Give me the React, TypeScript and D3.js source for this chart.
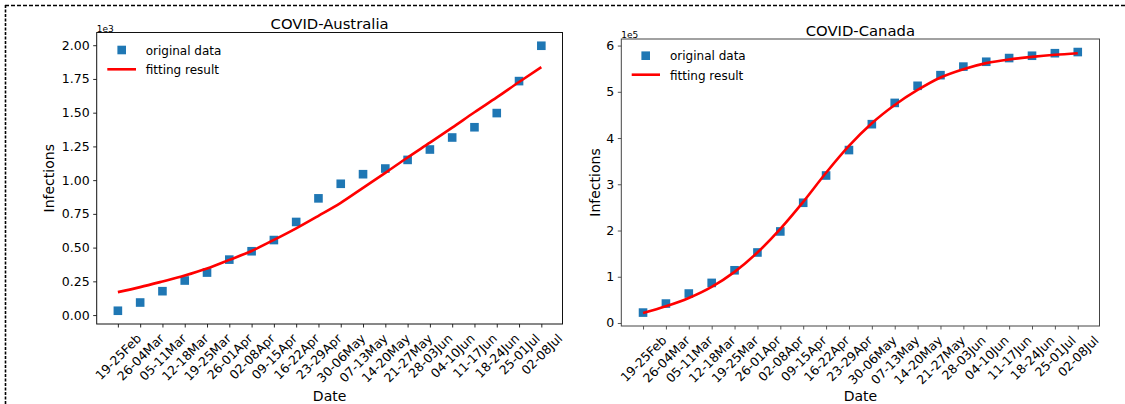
import React, { useEffect, useRef } from "react";
import * as d3 from "d3";

const dates = [
  "19-25Feb", "26-04Mar", "05-11Mar", "12-18Mar", "19-25Mar", "26-01Apr", "02-08Apr",
  "09-15Apr", "16-22Apr", "23-29Apr", "30-06May", "07-13May", "14-20May", "21-27May",
  "28-03Jun", "04-10Jun", "11-17Jun", "18-24Jun", "25-01Jul", "02-08Jul",
];

// Australia, units of 1e3
const ausOriginal = [0.032, 0.093, 0.177, 0.256, 0.315, 0.411, 0.473, 0.556, 0.690, 0.865,
  0.973, 1.044, 1.086, 1.150, 1.227, 1.316, 1.392, 1.497, 1.734, 1.996];
const ausFitting = [0.170, 0.207, 0.249, 0.293, 0.345, 0.409, 0.475, 0.557, 0.643, 0.736,
  0.832, 0.943, 1.054, 1.168, 1.278, 1.389, 1.503, 1.613, 1.727, 1.838];
const ausYTicks = [0, 0.25, 0.5, 0.75, 1.0, 1.25, 1.5, 1.75, 2.0];

// Canada, units of 1e5
const canOriginal = [0.225, 0.42, 0.637, 0.867, 1.14, 1.525, 1.98, 2.6, 3.19, 3.74,
  4.30, 4.76, 5.13, 5.36, 5.545, 5.65, 5.73, 5.78, 5.835, 5.86];
const canFitting = [0.217, 0.36, 0.54, 0.78, 1.105, 1.525, 2.036, 2.62, 3.25, 3.83,
  4.32, 4.715, 5.04, 5.31, 5.49, 5.62, 5.70, 5.755, 5.80, 5.835];
const canYTicks = [0, 1, 2, 3, 4, 5, 6];

const FONT = "DejaVu Sans, sans-serif";
const BLUE = "#1f77b4";
const RED = "#ff0000";

type Panel = {
  title: string;
  original: number[];
  fitting: number[];
  yTicks: number[];
  yFormat: (v: number) => string;
  offset: string;
  left: number;
  right: number;
  top: number;
  bottom: number;
  ylabelX: number;
  spine: string;
  legMarker: [number, number];
  legText1: [number, number];
  legLine: [number, number, number];
  legText2: [number, number];
};

const panels: Panel[] = [
  {
    title: "COVID-Australia",
    original: ausOriginal,
    fitting: ausFitting,
    yTicks: ausYTicks,
    yFormat: d3.format(".2f"),
    offset: "1e3",
    left: 96.7,
    right: 562.5,
    top: 32.5,
    bottom: 324,
    ylabelX: 54,
    spine: "#111",
    legMarker: [121.7, 50],
    legText1: [145.7, 54.5],
    legLine: [107.3, 136, 69.3],
    legText2: [145.7, 74],
  },
  {
    title: "COVID-Canada",
    original: canOriginal,
    fitting: canFitting,
    yTicks: canYTicks,
    yFormat: d3.format("d"),
    offset: "1e5",
    left: 621.3,
    right: 1099.5,
    top: 39,
    bottom: 326,
    ylabelX: 600,
    spine: "#444",
    legMarker: [645.7, 55.7],
    legText1: [670, 60],
    legLine: [631.7, 660, 74.7],
    legText2: [670, 79.7],
  },
];

function drawPanel(svg: d3.Selection<SVGSVGElement, unknown, null, undefined>, p: Panel) {
  const g = svg.append("g");
  const n = dates.length;
  const x = d3.scaleLinear().domain([-0.95, n - 1 + 0.95]).range([p.left, p.right]);
  const ext = d3.extent(p.original.concat(p.fitting)) as [number, number];
  const pad = (ext[1] - ext[0]) * 0.05;
  const y = d3.scaleLinear().domain([ext[0] - pad, ext[1] + pad]).range([p.bottom, p.top]);

  // x axis
  const xAxis = d3
    .axisBottom(x)
    .tickValues(d3.range(n))
    .tickFormat((i) => dates[i as number])
    .tickSizeInner(3.5)
    .tickSizeOuter(0)
    .tickPadding(3.5);
  const xg = g.append("g").attr("transform", `translate(0,${p.bottom})`).call(xAxis);
  xg.select(".domain").remove();
  xg.selectAll("line").attr("stroke", p.spine).attr("stroke-width", 0.9);
  const fs = 12.5;
  const c = Math.SQRT1_2;
  xg.selectAll<SVGTextElement, number>("text")
    .attr("font-family", FONT)
    .attr("font-size", fs)
    .attr("fill", "#000")
    .attr("x", 0)
    .attr("y", 0)
    .attr("dy", "0.35em")
    .attr("text-anchor", "end")
    .each(function () {
      const L = this.getComputedTextLength();
      const h = fs * 1.16;
      d3.select(this).attr(
        "transform",
        `translate(${(L * c) / 2 + (h * c) / 2 - (h * c) / 2},${7 + (h / 2) * c}) rotate(-45)`
      );
    });

  // y axis
  const yAxis = d3
    .axisLeft(y)
    .tickValues(p.yTicks)
    .tickFormat((v) => p.yFormat(v as number))
    .tickSizeInner(3.5)
    .tickSizeOuter(0)
    .tickPadding(3.5);
  const yg = g.append("g").attr("transform", `translate(${p.left},0)`).call(yAxis);
  yg.select(".domain").remove();
  yg.selectAll("line").attr("stroke", p.spine).attr("stroke-width", 0.9);
  yg.selectAll("text").attr("font-family", FONT).attr("font-size", fs).attr("fill", "#000");

  // markers
  const ms = 8.6;
  g.append("g")
    .selectAll("rect")
    .data(p.original)
    .join("rect")
    .attr("x", (_, i) => x(i) - ms / 2)
    .attr("y", (d) => y(d) - ms / 2)
    .attr("width", ms)
    .attr("height", ms)
    .attr("fill", BLUE);

  // fitted line
  const line = d3
    .line<number>()
    .x((_, i) => x(i))
    .y((d) => y(d))
    .curve(d3.curveMonotoneX);
  g.append("path")
    .attr("d", line(p.fitting) as string)
    .attr("fill", "none")
    .attr("stroke", RED)
    .attr("stroke-width", 2.6);

  // spines
  g.append("rect")
    .attr("x", p.left)
    .attr("y", p.top)
    .attr("width", p.right - p.left)
    .attr("height", p.bottom - p.top)
    .attr("fill", "none")
    .attr("stroke", p.spine)
    .attr("stroke-width", 1);

  // title
  g.append("text")
    .attr("x", (p.left + p.right) / 2)
    .attr("y", p.top - 3.5)
    .attr("text-anchor", "middle")
    .attr("font-family", FONT)
    .attr("font-size", 14.8)
    .attr("fill", "#000")
    .text(p.title);

  // offset text
  g.append("text")
    .attr("x", p.left)
    .attr("y", p.top - 1)
    .attr("font-family", FONT)
    .attr("font-size", 9)
    .attr("fill", "#000")
    .text(p.offset);

  // y label
  g.append("text")
    .attr("transform", `translate(${p.ylabelX},${(p.top + p.bottom) / 2}) rotate(-90)`)
    .attr("text-anchor", "middle")
    .attr("font-family", FONT)
    .attr("font-size", 14)
    .attr("fill", "#000")
    .text("Infections");

  // x label
  g.append("text")
    .attr("x", (p.left + p.right) / 2)
    .attr("y", 401)
    .attr("text-anchor", "middle")
    .attr("font-family", FONT)
    .attr("font-size", 14)
    .attr("fill", "#000")
    .text("Date");

  // legend
  g.append("rect")
    .attr("x", p.legMarker[0] - ms / 2)
    .attr("y", p.legMarker[1] - ms / 2)
    .attr("width", ms)
    .attr("height", ms)
    .attr("fill", BLUE);
  g.append("text")
    .attr("x", p.legText1[0])
    .attr("y", p.legText1[1])
    .attr("font-family", FONT)
    .attr("font-size", 12)
    .attr("fill", "#000")
    .text("original data");
  g.append("line")
    .attr("x1", p.legLine[0])
    .attr("x2", p.legLine[1])
    .attr("y1", p.legLine[2])
    .attr("y2", p.legLine[2])
    .attr("stroke", RED)
    .attr("stroke-width", 2.6);
  g.append("text")
    .attr("x", p.legText2[0])
    .attr("y", p.legText2[1])
    .attr("font-family", FONT)
    .attr("font-size", 12)
    .attr("fill", "#000")
    .text("fitting result");
}

export default function App() {
  const ref = useRef<SVGSVGElement>(null);
  useEffect(() => {
    if (!ref.current) return;
    const svg = d3.select(ref.current);
    svg.selectAll("*").remove();
    svg.append("rect").attr("width", 1125).attr("height", 404).attr("fill", "#fff");
    // dashed frame
    svg.append("line")
      .attr("x1", 5).attr("x2", 1125).attr("y1", 5.5).attr("y2", 5.5)
      .attr("stroke", "#000").attr("stroke-width", 1.6).attr("stroke-dasharray", "4,2");
    svg.append("line")
      .attr("x1", 5.5).attr("x2", 5.5).attr("y1", 5).attr("y2", 404)
      .attr("stroke", "#000").attr("stroke-width", 1.6).attr("stroke-dasharray", "3,1.5");
    panels.forEach((p) => drawPanel(svg as any, p));
  }, []);
  return (
    <svg
      ref={ref}
      width={1125}
      height={404}
      style={{ position: "absolute", left: 0, top: 0, display: "block" }}
    />
  );
}
